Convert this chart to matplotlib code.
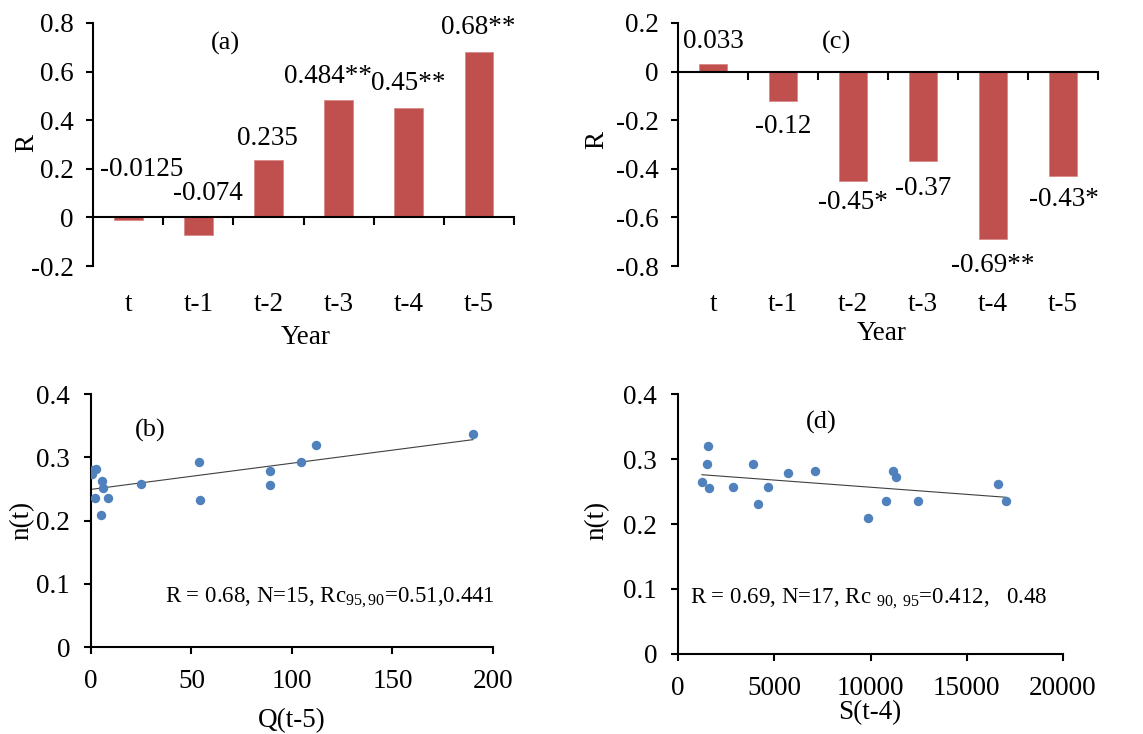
import numpy as np
import matplotlib
matplotlib.use("Agg")
import matplotlib.pyplot as plt
from matplotlib.ticker import FuncFormatter, FixedLocator

plt.rcParams["font.family"] = ["Liberation Serif", "DejaVu Serif"]
plt.rcParams["mathtext.fontset"] = "custom"
plt.rcParams["mathtext.rm"] = "Liberation Serif"
plt.rcParams["mathtext.it"] = "Liberation Serif:italic"

# correlation of n(t) with lagged Q and S
lags = ["t", "t-1", "t-2", "t-3", "t-4", "t-5"]
r_q = [-0.0125, -0.074, 0.235, 0.484, 0.45, 0.68]
sig_q = ["", "", "", "**", "**", "**"]
r_s = [0.033, -0.12, -0.45, -0.37, -0.69, -0.43]
sig_s = ["", "", "*", "", "**", "*"]

# scatter of n(t) against Q(t-5)
q5 = [0.5, 1.0, 2.3, 2.0, 5.3, 5.8, 5.0, 8.6, 25.0, 53.7, 54.0, 89.2, 88.9, 104.5, 112.0, 190.0]
n_q = [0.273, 0.280, 0.282, 0.236, 0.262, 0.252, 0.208, 0.236, 0.258, 0.293, 0.232, 0.279, 0.256, 0.293, 0.320, 0.337]

# scatter of n(t) against S(t-4)
s4 = [1244, 1503, 1572, 1624, 2851, 3871, 4147, 4666, 5737, 7102, 9850, 10817, 11163, 11301, 12442, 16641, 17038]
n_s = [0.265, 0.292, 0.320, 0.255, 0.257, 0.292, 0.231, 0.257, 0.279, 0.282, 0.209, 0.236, 0.282, 0.273, 0.236, 0.262, 0.236]

BAR = "#C0504D"
DOT = "#4F81BD"
FS = 19.5

fig = plt.figure(figsize=(11.43, 7.34), dpi=100)


def fmt(v, _):
    return "%g" % (round(v, 4) + 0.0)


def bar_panel(rect, values, stars, offsets, ylim, tag, tag_xy, ylab_xy, xlab_xy):
    ax = fig.add_axes(rect)
    x = np.arange(len(lags))
    ax.bar(x, values, width=0.41, color=BAR, edgecolor="#D98A88", linewidth=0.6, zorder=2)
    for i, (v, s, (dx, dy)) in enumerate(zip(values, stars, offsets)):
        ax.text(i + dx, v + dy, "%g%s" % (v, s), ha="center", va="center", fontsize=FS)
    ax.set_xlim(-0.5, len(lags) - 0.5)
    ax.set_ylim(*ylim)
    ax.set_yticks(np.arange(ylim[0], ylim[1] + 0.01, 0.2))
    ax.yaxis.set_major_formatter(FuncFormatter(fmt))
    ax.spines["top"].set_visible(False)
    ax.spines["right"].set_visible(False)
    ax.spines["bottom"].set_position(("data", 0))
    for sp in ("left", "bottom"):
        ax.spines[sp].set_linewidth(1.5)
    ax.xaxis.set_major_locator(FixedLocator(np.arange(0.5, len(lags), 1.0)))
    ax.tick_params(axis="x", labelbottom=False, direction="out", length=6, width=1.5)
    ax.tick_params(axis="y", direction="out", length=5, width=1.5, pad=9, labelsize=FS)
    # category names sit below the plot area, not on the zero line
    sec = ax.secondary_xaxis("bottom")
    sec.set_xticks(x)
    sec.set_xticklabels(lags, fontsize=FS)
    sec.tick_params(length=0, pad=19)
    sec.spines["bottom"].set_visible(False)
    ax.text(tag_xy[0], tag_xy[1], tag, ha="center", va="center", fontsize=19)
    ax.set_ylabel("R", fontsize=FS)
    ax.yaxis.label.set_verticalalignment("center")
    ax.yaxis.set_label_coords(*ylab_xy)
    ax.text(xlab_xy[0], xlab_xy[1], "Year", transform=ax.transAxes,
            ha="center", va="center", fontsize=FS)
    return ax


def scatter_panel(rect, xs, ys, xlim, xticks, xlabel, tag, tag_xy, note, note_xy, note_ha,
                  ylab_xy, xlab_xy):
    ax = fig.add_axes(rect)
    ax.scatter(xs, ys, s=46, color=DOT, zorder=3, linewidths=0)
    k, b = np.polyfit(xs, ys, 1)
    xx = np.array([min(xs), max(xs)])
    ax.plot(xx, k * xx + b, color="#404040", lw=0.8, zorder=2)
    ax.set_xlim(*xlim)
    ax.set_ylim(0, 0.4)
    ax.set_xticks(xticks)
    ax.set_yticks([0, 0.1, 0.2, 0.3, 0.4])
    ax.yaxis.set_major_formatter(FuncFormatter(fmt))
    ax.xaxis.set_major_formatter(FuncFormatter(lambda v, _: "%d" % v))
    ax.spines["top"].set_visible(False)
    ax.spines["right"].set_visible(False)
    for sp in ("left", "bottom"):
        ax.spines[sp].set_linewidth(1.5)
    ax.tick_params(direction="out", length=5, width=1.5, labelsize=FS)
    ax.tick_params(axis="y", pad=10)
    ax.tick_params(axis="x", pad=11)
    ax.text(tag_xy[0], tag_xy[1], tag, ha="center", va="center", fontsize=19)
    ax.text(note_xy[0], note_xy[1], note, ha=note_ha, va="center", fontsize=16.5)
    ax.set_ylabel("n(t)", fontsize=FS)
    ax.yaxis.label.set_verticalalignment("center")
    ax.yaxis.set_label_coords(*ylab_xy)
    ax.text(xlab_xy[0], xlab_xy[1], xlabel, transform=ax.transAxes,
            ha="center", va="center", fontsize=FS)
    return ax


# (a) Q lags
bar_panel([0.0814, 0.6376, 0.3683, 0.3311], r_q, sig_q,
          [(0.2, 0.21), (0.14, 0.174), (-0.01, 0.091), (-0.15, 0.096), (-0.01, 0.10), (-0.01, 0.10)],
          (-0.2, 0.8), "(a)", (1.38, 0.717), (-0.157, 0.506), (0.504, -0.296))

# (c) S lags
bar_panel([0.5932, 0.6376, 0.3674, 0.3311], r_s, sig_s,
          [(0.0, 0.092), (0.0, -0.105), (0.0, -0.09), (0.0, -0.11), (0.0, -0.106), (0.01, -0.098)],
          (-0.8, 0.2), "(c)", (1.77, 0.12), (-0.193, 0.52), (0.485, -0.276))

# (b) n(t) vs Q(t-5)
scatter_panel([0.0796, 0.1185, 0.3517, 0.3447], q5, n_q, (0, 200), [0, 50, 100, 150, 200],
              "Q(t-5)", "(b)", (29.4, 0.343),
              r"R = 0.68, N=15, Rc$_{\mathrm{95,90}}$=0.51,0.441", (201, 0.078), "right",
              (-0.172, 0.50), (0.50, -0.29))

# (d) n(t) vs S(t-4)
scatter_panel([0.5932, 0.109, 0.3368, 0.3542], s4, n_s, (0, 20000),
              [0, 5000, 10000, 15000, 20000],
              "S(t-4)", "(d)", (7465, 0.357),
              r"R = 0.69, N=17, Rc $_{\mathrm{90,\ 95}}$=0.412,   0.48", (620, 0.085), "left",
              (-0.211, 0.515), (0.499, -0.225))

fig.savefig("out.png", dpi=100, facecolor="white")
